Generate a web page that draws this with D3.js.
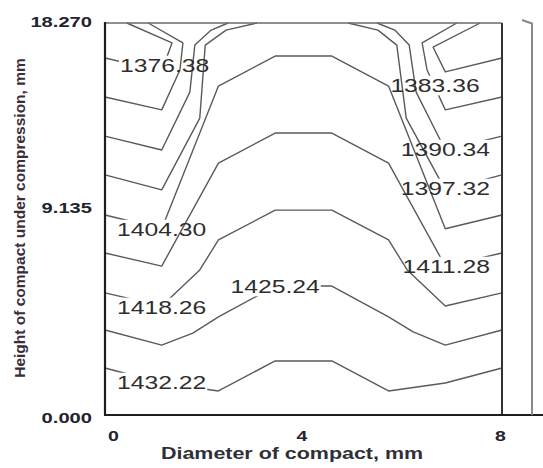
<!DOCTYPE html>
<html><head><meta charset="utf-8">
<script src="https://cdn.jsdelivr.net/npm/d3@7"></script>
<style>html,body{margin:0;padding:0;background:#fff}</style>
</head><body>
<svg id="chart" width="543" height="468"></svg>
<script>
// ---------- data (mm) ----------
const levels = [1376.38, 1383.36, 1390.34, 1397.32, 1404.30, 1411.28, 1418.26, 1425.24, 1432.22];
const xTicks = [0, 4, 8];
const yTicks = [0, 9.135, 18.27];
const xDomain = [0, 8];
const yDomain = [0, 18.27];

const line1376L = [[0,16.64],[1.143,16.03],[1.35,17.34],[0.44,18.27]];
const line1376R = [[8,16.64],[6.857,15.99],[6.61,17.15],[7.56,18.27]];
const line1383L = [[0,14.82],[1.143,14.22],[1.51,16.08],[1.57,17.34],[0.87,18.27]];
const line1383R = [[8,14.82],[6.857,14.22],[6.49,16.08],[6.39,17.34],[7.09,18.27]];
const line1390L = [[0,13.00],[1.143,12.35],[1.71,15.05],[1.81,17.24],[2.14,17.94],[2.48,18.27]];
const line1390R = [[8,13.00],[6.857,12.35],[6.27,15.05],[6.13,17.24],[5.84,17.94],[5.48,18.27]];
const line1397L = [[0,11.19],[1.143,10.49],[1.91,13.84],[2.02,17.24],[2.44,17.94],[3.06,18.27]];
const line1397R = [[8,11.19],[6.857,10.49],[6.07,13.84],[5.88,17.24],[5.50,17.94],[4.90,18.27]];
const line1404 = [[0,9.32],[1.143,8.68],[2.286,15.33],[3.429,16.73],[4.571,16.73],[5.714,15.33],[6.857,8.68],[8,9.32]];
const line1411 = [[0,7.55],[1.143,6.94],[2.286,11.74],[3.429,13.14],[4.571,13.14],[5.714,11.74],[6.857,6.94],[8,7.55]];
const line1418 = [[0,5.69],[1.143,5.08],[1.91,6.76],[2.286,8.16],[3.429,9.55],[4.571,9.55],[5.714,8.16],[6.09,6.76],[6.857,5.08],[8,5.69]];
const line1425 = [[0,3.96],[1.143,3.26],[1.77,3.82],[2.286,4.57],[3.429,6.01],[4.571,6.01],[5.714,4.57],[6.21,3.87],[6.857,3.26],[8,3.96]];
const line1432 = [[0,2.19],[1.143,1.49],[2.286,1.12],[3.429,2.52],[4.571,2.52],[5.714,1.12],[6.857,1.49],[8,2.19]];

// label placement: which piece carries the label and where
const labelMode = ["left","mid","right","right","left","right","left","mid","left"];
const labelMidPoint = [null,[6.65,15.38],null,null,null,null,null,[3.429,6.01],null];

// ---------- layout ----------
const svg = d3.select("#chart");
const x = d3.scaleLinear(xDomain, [105, 502]);
const y = d3.scaleLinear(yDomain, [415, 23]);
const SX = 1.3; // horizontal stretch of the original picture

const pieces = [
  {lv:0, pts:line1376L, side:"left"},  {lv:0, pts:line1376R, side:"right"},
  {lv:1, pts:line1383L, side:"left"},  {lv:1, pts:line1383R, side:"right"},
  {lv:2, pts:line1390L, side:"left"},  {lv:2, pts:line1390R, side:"right"},
  {lv:3, pts:line1397L, side:"left"},  {lv:3, pts:line1397R, side:"right"},
  {lv:4, pts:line1404, side:"both"},   {lv:5, pts:line1411, side:"both"},
  {lv:6, pts:line1418, side:"both"},   {lv:7, pts:line1425, side:"both"},
  {lv:8, pts:line1432, side:"both"}
];

const defs = svg.append("defs");
const masks = levels.map((lv,i) => {
  const m = defs.append("mask").attr("id","m"+i).attr("maskUnits","userSpaceOnUse")
    .attr("x",0).attr("y",0).attr("width",543).attr("height",468);
  m.append("rect").attr("width",543).attr("height",468).attr("fill","#fff");
  return m;
});

const lineGen = d3.line().x(d => x(d[0])).y(d => y(d[1]));
const gLines = svg.append("g");
pieces.forEach(p => {
  gLines.append("path").attr("d", lineGen(p.pts)).attr("fill","none")
    .attr("stroke","#5a5a5a").attr("stroke-width",1.4)
    .attr("stroke-linejoin","round")
    .attr("mask","url(#m"+p.lv+")");
});

// contour labels
const gLab = svg.append("g");
levels.forEach((lv,i) => {
  const mode = labelMode[i];
  let tx, ty, anchor;
  if (mode === "left") {
    const pc = pieces.find(p => p.lv===i && (p.side==="left"||p.side==="both"));
    const e = pc.pts[0];
    tx = x(e[0]) + (i===0 ? 15 : 12);
    ty = y(e[1]) + (i===0 ? 14 : 21);
    anchor = "start";
  } else if (mode === "right") {
    const pc = pieces.find(p => p.lv===i && (p.side==="right"||p.side==="both"));
    const e = pc.side==="both" ? pc.pts[pc.pts.length-1] : pc.pts[0];
    tx = x(e[0]) - 12;
    ty = y(e[1]) + 20;
    anchor = "end";
  } else {
    const c = labelMidPoint[i];
    tx = x(c[0]); ty = y(c[1]) + 7; anchor = "middle";
  }
  const g = gLab.append("g").attr("transform",`translate(${tx},${ty}) scale(${SX},1)`);
  const t = g.append("text").attr("text-anchor",anchor)
    .attr("font-family","Liberation Sans, Arial, sans-serif")
    .attr("font-size",19).attr("fill","#2e2e2e")
    .text(d3.format(".2f")(lv));
  const bb = t.node().getBBox();
  masks[i].append("rect")
    .attr("x", tx + bb.x*SX - 1).attr("y", bb.y + ty + 1)
    .attr("width", bb.width*SX + 2).attr("height", bb.height - 2)
    .attr("fill","#000");
});

// frame
svg.append("line").attr("x1",x(0)).attr("x2",x(8)).attr("y1",y(18.27)).attr("y2",y(18.27))
  .attr("stroke","#6a6a6a").attr("stroke-width",1.6);
svg.append("line").attr("x1",x(8)).attr("x2",x(8)).attr("y1",y(18.27)).attr("y2",y(0))
  .attr("stroke","#333").attr("stroke-width",2);
svg.append("line").attr("x1",x(0)).attr("x2",x(0)).attr("y1",y(18.27)-1).attr("y2",y(0))
  .attr("stroke","#1e1e1e").attr("stroke-width",2.2);
svg.append("line").attr("x1",x(0)-1).attr("x2",543).attr("y1",y(0)).attr("y2",y(0))
  .attr("stroke","#1e1e1e").attr("stroke-width",2.2);
// partial colour-bar edge at right
svg.append("path").attr("d","M522,20 L532,23.5 L532,415").attr("fill","none")
  .attr("stroke","#8a8a8a").attr("stroke-width",2);

// axes
const yNudge = [1.5, -13, -3];
const yAxis = d3.axisLeft(y).tickValues(yTicks).tickSize(0).tickFormat(d3.format(".3f"));
const gy = svg.append("g").attr("transform",`translate(${x(0)},0)`).call(yAxis);
gy.select(".domain").remove();
gy.selectAll(".tick text")
  .attr("x",0).attr("dy",0)
  .attr("transform",(d,i)=>`translate(-13,${6+yNudge[i]}) scale(${SX},1)`)
  .attr("text-anchor","end")
  .attr("font-family","Liberation Sans, Arial, sans-serif")
  .attr("font-size",15.5).attr("font-weight","bold").attr("fill","#23232e");

const xNudge = [8, -2, -2];
const xAxis = d3.axisBottom(x).tickValues(xTicks).tickSize(0).tickFormat(d3.format("d"));
const gx = svg.append("g").attr("transform",`translate(0,${y(0)})`).call(xAxis);
gx.select(".domain").remove();
gx.selectAll(".tick text")
  .attr("y",0).attr("dy",0)
  .attr("transform",(d,i)=>`translate(${xNudge[i]},26) scale(${SX},1)`)
  .attr("text-anchor","middle")
  .attr("font-family","Liberation Sans, Arial, sans-serif")
  .attr("font-size",15).attr("font-weight","bold").attr("fill","#23232e");

// titles
svg.append("g").attr("transform",`translate(292,459) scale(${SX},1)`)
  .append("text").attr("text-anchor","middle")
  .attr("font-family","Liberation Sans, Arial, sans-serif")
  .attr("font-size",16.5).attr("font-weight","bold").attr("fill","#2f2f38")
  .text("Diameter of compact, mm");
svg.append("text").attr("transform","translate(25,218) rotate(-90)")
  .attr("text-anchor","middle")
  .attr("font-family","Liberation Sans, Arial, sans-serif")
  .attr("font-size",15.5).attr("font-weight","bold").attr("fill","#3a2c3a")
  .text("Height of compact under compression, mm");
</script>
</body></html>
